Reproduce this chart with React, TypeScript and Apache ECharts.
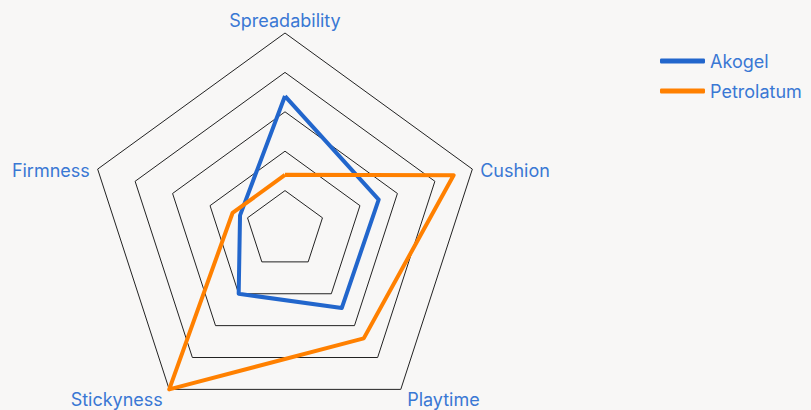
import React, { useEffect, useRef } from "react";
import * as echarts from "echarts";

// Listed in ECharts' counter-clockwise order so the picture reads clockwise:
// Spreadability (top), Cushion (right), Playtime (bottom right), Stickyness (bottom left), Firmness (left)
const indicators = ["Spreadability", "Firmness", "Stickyness", "Playtime", "Cushion"];
const labelPlace = ["top", "side", "bottom", "bottom", "side"];
const maxValue = 10;
const akogel = [6.8, 2.4, 4.0, 4.9, 5.0];
const petrolatum = [2.8, 2.8, 10, 6.8, 9.0];
const seriesNames = ["Akogel", "Petrolatum"];
const colors = ["#2266cc", "#ff8000"];
const FONT = "Inter, 'Noto Sans', sans-serif";
const LABEL_COLOR = "#3a78d4";

export default function App() {
  const ref = useRef<HTMLDivElement>(null);
  useEffect(() => {
    document.body.style.margin = "0";
    const chart = echarts.init(ref.current!, null, { renderer: "svg" });
    const base = { color: LABEL_COLOR, fontSize: 18, fontFamily: FONT };
    chart.setOption({
      animation: false,
      backgroundColor: "#f8f7f6",
      textStyle: { fontFamily: FONT },
      legend: {
        orient: "vertical",
        left: 655,
        top: 47,
        itemWidth: 45,
        itemHeight: 5,
        itemGap: 12,
        icon: "roundRect",
        data: seriesNames,
        textStyle: { color: LABEL_COLOR, fontSize: 18, fontFamily: FONT },
      },
      radar: {
        center: [285, 230],
        radius: 197,
        startAngle: 90,
        splitNumber: 5,
        shape: "polygon",
        indicator: indicators.map((name) => ({ name, max: maxValue, min: 0 })),
        axisName: {
          ...base,
          padding: [0, 4, 0, 4],
          formatter: (name: string) => {
            const i = indicators.indexOf(name);
            return `{${labelPlace[i]}|${name}}`;
          },
          rich: {
            top: { ...base, padding: [0, 0, 0, 0] },
            side: { ...base, padding: [6, 0, 0, 0] },
            bottom: { ...base, padding: [13, 0, 0, 0] },
          },
        },
        nameGap: 4,
        axisLine: { show: false },
        axisTick: { show: false },
        axisLabel: { show: false },
        splitArea: { show: false },
        splitLine: { lineStyle: { color: "#222", width: 1 } },
      },
      series: [
        {
          type: "radar",
          symbol: "none",
          data: [
            {
              name: seriesNames[0],
              value: akogel,
              lineStyle: { color: colors[0], width: 4 },
              itemStyle: { color: colors[0] },
            },
            {
              name: seriesNames[1],
              value: petrolatum,
              lineStyle: { color: colors[1], width: 4 },
              itemStyle: { color: colors[1] },
            },
          ],
        },
      ],
    });
    return () => chart.dispose();
  }, []);
  return <div ref={ref} style={{ width: 811, height: 410 }} />;
}
